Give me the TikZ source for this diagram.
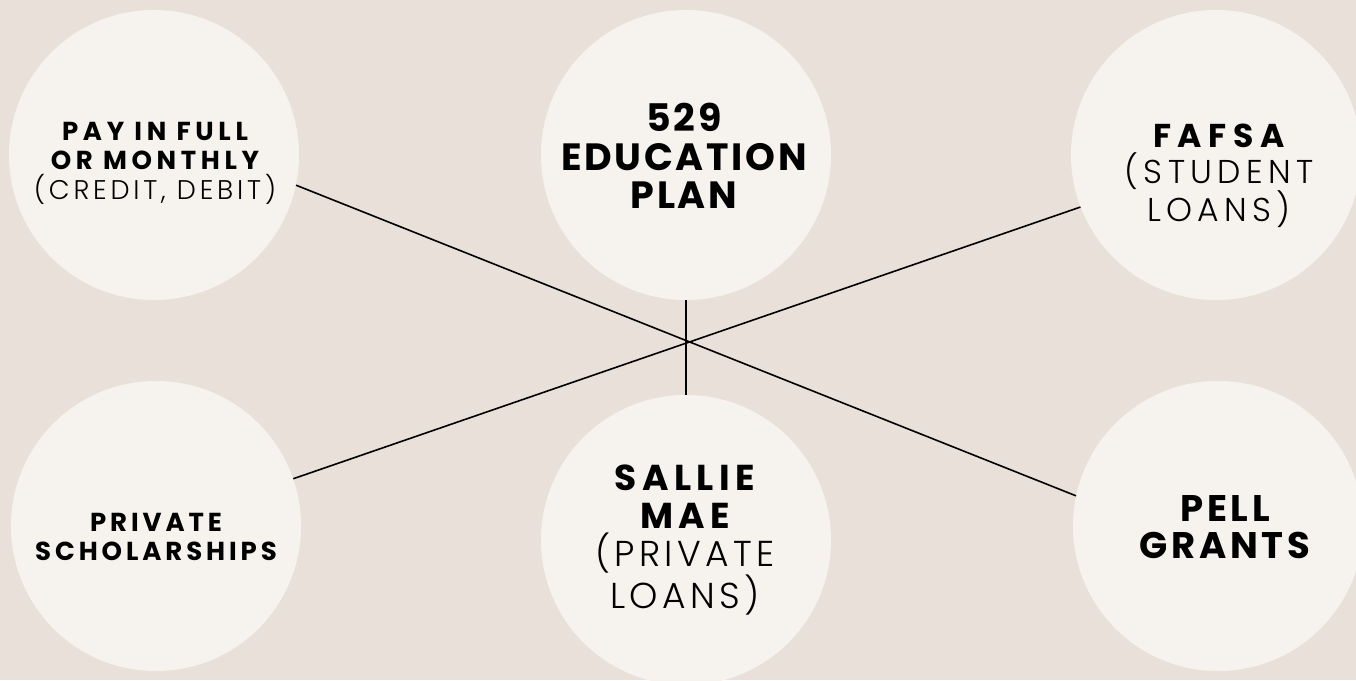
\documentclass[tikz,border=0pt]{standalone}
\usepackage{fontspec}
\setmainfont{Poppins}
\newfontfamily\hb{Poppins Bold}
\newfontfamily\hl{Poppins Light}
\newcommand{\ls}[1]{\addfontfeature{LetterSpace=#1}}
\definecolor{bgc}{RGB}{233,225,217}
\definecolor{circc}{RGB}{246,243,238}
\tikzset{
  circ/.style={circle, fill=circc, draw=none, minimum size=290pt, inner sep=0pt},
  txt/.style={align=center, inner sep=0pt, text=black},
  conn/.style={draw=black, line width=1.6pt}
}
\begin{document}
\begin{tikzpicture}[x=1pt,y=-1pt]
\fill[bgc] (0,0) rectangle (1356,680);
\useasboundingbox (0,0) rectangle (1356,680);
\begin{scope}
\clip (0,0) rectangle (1356,680);
\node[circ] (tl) at (154,155) {};
\node[circ] (tc) at (686,155) {};
\node[circ] (tr) at (1216,155) {};
\node[circ] (bl) at (156,526) {};
\node[circ] (bc) at (686,540) {};
\node[circ] (br) at (1218,526) {};
\end{scope}
\draw[conn] (tl.-12.4) -- (br.168.5);
\draw[conn] (bl.19.3) -- (tr.201);
\draw[conn] (tc.south) -- (bc.north);
\node[txt, font=\fontsize{26}{29.5}\selectfont] (tlt) at (155,163)
  {{\hb\ls{18}PAY IN FULL}\\{\hb\ls{18}OR MONTHLY}\\{\fontsize{27}{29.5}\selectfont\hl\ls{14}(CREDIT, DEBIT)}};
\node[txt, font=\fontsize{38}{38.5}\selectfont] (tct) at (684,156)
  {{\hb\ls{7}529}\\{\hb\ls{7}EDUCATION}\\{\hb\ls{7}PLAN}};
\node[txt, font=\fontsize{33}{36}\selectfont] (trt) at (1219,176)
  {{\hb\ls{20}FAFSA}\\{\hl\ls{16}(STUDENT}\\{\hl\ls{16}LOANS)}};
\node[txt, font=\fontsize{26}{29.5}\selectfont] (blt) at (156,537)
  {{\hb\ls{15}PRIVATE}\\{\hb\ls{15}SCHOLARSHIPS}};
\node[txt, font=\fontsize{36}{38}\selectfont] (bct) at (685,540)
  {{\hb\ls{15}SALLIE}\\{\hb\ls{15}MAE}\\{\hl\ls{12}(PRIVATE}\\{\hl\ls{12}LOANS)}};
\node[txt, font=\fontsize{37}{37}\selectfont] (brt) at (1225,527)
  {{\hb\ls{10}PELL}\\{\hb\ls{10}GRANTS}};
\end{tikzpicture}
\end{document}
